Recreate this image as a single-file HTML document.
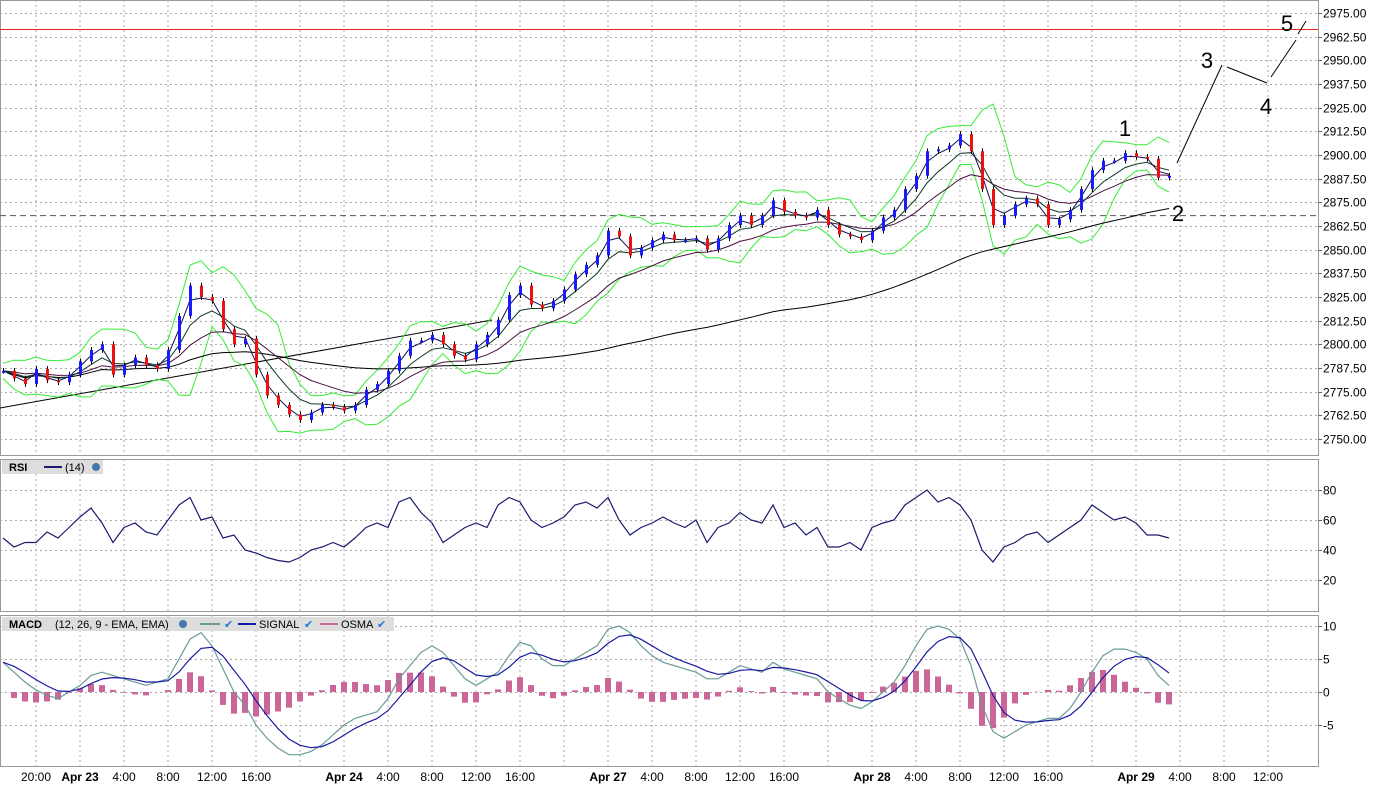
<!DOCTYPE html>
<html><head><meta charset="utf-8"><style>
body{margin:0;background:#fff;}
svg{display:block;font-family:"Liberation Sans",sans-serif;}
</style></head><body>
<svg id="chart" width="1377" height="792" xmlns="http://www.w3.org/2000/svg"></svg>
<script>
const closes=[2786,2782,2779,2787,2781,2780,2784,2791,2797,2800,2784,2789,2793,2789,2787,2797,2815,2831,2825,2823,2808,2800,2803,2784,2773,2768,2763,2760,2764,2768,2767,2765,2768,2776,2779,2786,2794,2802,2802,2805,2800,2794,2792,2800,2805,2813,2826,2831,2821,2819,2823,2829,2837,2842,2847,2860,2857,2847,2851,2855,2858,2855,2855,2856,2850,2856,2863,2868,2863,2868,2876,2870,2868,2867,2871,2863,2858,2857,2855,2860,2867,2871,2882,2889,2902,2903,2905,2911,2902,2882,2863,2868,2874,2877,2874,2863,2866,2871,2882,2892,2897,2897,2901,2899,2898,2888,2889];
const rsiVals=[48,42,45,45,52,48,55,62,68,58,45,55,58,52,50,60,70,75,60,62,48,50,40,38,35,33,32,35,40,42,45,42,48,55,58,55,72,75,65,58,45,50,55,58,55,70,75,72,60,55,58,62,70,72,68,75,60,50,55,58,62,58,55,60,45,55,58,65,60,58,70,55,58,50,55,42,42,45,40,55,58,60,70,75,80,72,75,70,60,40,32,42,45,50,52,45,50,55,60,70,65,60,62,58,50,50,48];
const macdVals=[4.5,3,1.5,0.3,-0.5,-1,0,1,2.5,3,2.5,2,1.5,1,1.5,2,5,8,9,7,3.5,0,-2,-5,-7,-8.5,-9.5,-9.5,-9,-8,-6.5,-5,-4,-3.5,-3,-1,2,4,6,7,6,4,2,1,2,3,5.5,7.5,7,5,4,4,5,6,7,9.5,10,9,7,5.5,4.5,4,3.5,3,2,2,3,4,3.5,3,4.5,3.5,3,2.5,2,0,-1,-2,-2.5,-1.5,0,1.5,4,7,9.5,10,9.5,8,4,-2,-6,-7,-6,-5,-4.5,-4,-4,-2.5,0,3,5.5,6.5,6.5,6,5,2.5,1];
const priceTicks=[2975,2962.5,2950,2937.5,2925,2912.5,2900,2887.5,2875,2862.5,2850,2837.5,2825,2812.5,2800,2787.5,2775,2762.5,2750];
const rsiTicks=[80,60,40,20];
const macdTicks=[10,5,0,-5];
const timeLabels=["20:00","Apr 23","4:00","8:00","12:00","16:00","","Apr 24","4:00","8:00","12:00","16:00","","Apr 27","4:00","8:00","12:00","16:00","","Apr 28","4:00","8:00","12:00","16:00","","Apr 29","4:00","8:00","12:00"];

const NS="http://www.w3.org/2000/svg";
const svg=document.getElementById('chart');
function el(tag,attrs,parent){const e=document.createElementNS(NS,tag);for(const k in attrs)e.setAttribute(k,attrs[k]);(parent||svg).appendChild(e);return e;}
const PW=1318;
const xIdx=i=>3+11*i;
const yP=p=>13+(2975-p)*426/225;
const yR=v=>580-(v-20)*1.5;
const yM=v=>692-v*6.6;

[[0,0,455],[0,459,611],[0,615,766]].forEach((p,k)=>{
  const r=el('rect',{x:0.5,y:p[1]+0.5,width:PW,height:p[2]-p[1],fill:'#fff',stroke:'#999'});
  
  
});
for(let k=0;k<timeLabels.length;k++){
  const x=36+44*k;
  [[0,455],[459,611],[615,766]].forEach(r=>{
    const l=el('line',{x1:x,x2:x,y1:r[0],y2:r[1],stroke:'#aaa','stroke-dasharray':'2,3'});
    
    
  });
  if(timeLabels[k]){
    const t=el('text',{x:x,y:781,'font-size':12,'text-anchor':'middle',fill:'#000','font-weight':timeLabels[k].startsWith('Apr')?'bold':'normal'});
    t.textContent=timeLabels[k];
    
    
  }
}
function hgrid(ticks,yf,fmt){
  ticks.forEach(v=>{
    const y=Math.round(yf(v))+0.5;
    const l=el('line',{x1:0,x2:PW,y1:y,y2:y,stroke:'#aaa','stroke-dasharray':'2,3'});
    
    
    el('line',{x1:PW,x2:PW+4,y1:y,y2:y,stroke:'#666'});
    const t=el('text',{x:PW+5,y:y+4,'font-size':12,fill:'#000'});
    t.textContent=fmt(v);
    
    
  });
}
hgrid(priceTicks,yP,v=>v.toFixed(2));
hgrid(rsiTicks,yR,v=>String(v));
hgrid(macdTicks,yM,v=>String(v));

function ema(a,n){const k=2/(n+1);const o=[];a.forEach((v,i)=>o.push(i?o[i-1]+k*(v-o[i-1]):v));return o;}
function sma(a,n){return a.map((v,i)=>{const s=a.slice(Math.max(0,i-n+1),i+1);return s.reduce((x,y)=>x+y,0)/s.length;});}
function path(vals,yf,color,w,name){
  const d=vals.map((v,i)=>(i?'L':'M')+xIdx(i)+','+yf(v).toFixed(1)).join('');
  const p=el('path',{d:d,fill:'none',stroke:color,'stroke-width':w});
  
  
}
let rl=el('line',{x1:0,x2:PW,y1:29.5,y2:29.5,stroke:'#ee2222'});

rl=el('line',{x1:0,x2:PW,y1:yP(2868),y2:yP(2868),stroke:'#555','stroke-dasharray':'6,4'});

rl=el('line',{x1:0,x2:492,y1:408,y2:320,stroke:'#000'});


const mid=sma(closes,4);
const sd=closes.map((v,i)=>{const s=closes.slice(Math.max(0,i-3),i+1);const m=mid[i];return Math.sqrt(s.reduce((a,b)=>a+(b-m)*(b-m),0)/s.length);});
path(mid.map((m,i)=>m+1.8*sd[i]+4),yP,'#33ee33',1,'bollinger-upper');
path(mid.map((m,i)=>m-1.8*sd[i]-4),yP,'#33ee33',1,'bollinger-lower');
path(sma(closes,55),yP,'#000',1,'long-sma');
path(ema(closes,12),yP,'#4a1040',1,'ema-slow');
path(ema(closes,5),yP,'#0c3a20',1,'ema-mid');
path(ema(closes,2),yP,'#101050',1,'ema-fast');

closes.forEach((c,i)=>{
  const o=i?closes[i-1]:c;
  const hi=Math.max(o,c)+1.5,lo=Math.min(o,c)-1.5;
  const x=xIdx(i)+0.5;
  const w=el('line',{x1:x,x2:x,y1:yP(hi),y2:yP(lo),stroke:'#000'});
  
  
  const top=yP(Math.max(o,c)),h=Math.max(2,yP(Math.min(o,c))-top);
  const b=el('rect',{x:x-1.5,y:top,width:3,height:h,fill:c>=o?'#1a1aff':'#ee1111'});
  
  
});

[[1177,163,1222,65],[1227,67,1267,83],[1271,77,1296,40],[1298,34,1306,21]].forEach(s=>{
  const l=el('line',{x1:s[0],y1:s[1],x2:s[2],y2:s[3],stroke:'#000'});
  
  
});
[["1",1125,136],["2",1178,221],["3",1207,68],["4",1266,114],["5",1287,31]].forEach(a=>{
  const t=el('text',{x:a[1],y:a[2],'font-size':22,'text-anchor':'middle',fill:'#000'});
  t.textContent=a[0];
  
  
});

path(rsiVals,yR,'#1a1a6e',1.2,'rsi-line');
const signalVals=ema(macdVals,4);
macdVals.forEach((m,i)=>{
  const v=m-signalVals[i];
  const y0=yM(0),y1=yM(v);
  const r=el('rect',{x:xIdx(i)-3,y:Math.min(y0,y1),width:6,height:Math.abs(y1-y0),fill:'#cc6699'});
  
  
});
path(macdVals,yM,'#6a9a98',1.2,'macd-line');
path(signalVals,yM,'#1a1aa0',1.2,'signal-line');

let g=el('g',{});

el('rect',{x:2,y:460,width:101,height:14,fill:'#ddd'},g);
let t=el('text',{x:9,y:471,'font-size':11,'font-weight':'bold'},g);t.textContent='RSI';
el('line',{x1:44,x2:62,y1:467,y2:467,stroke:'#1a1a6e','stroke-width':2},g);
t=el('text',{x:65,y:471,'font-size':11},g);t.textContent='(14)';
el('circle',{cx:96,cy:467,r:4,fill:'#4477aa'},g);
g=el('g',{});

el('rect',{x:2,y:617,width:392,height:14,fill:'#ddd'},g);
t=el('text',{x:9,y:628,'font-size':11,'font-weight':'bold'},g);t.textContent='MACD';
t=el('text',{x:55,y:628,'font-size':11},g);t.textContent='(12, 26, 9 - EMA, EMA)';
el('circle',{cx:183,cy:624,r:4,fill:'#4477aa'},g);
el('line',{x1:200,x2:220,y1:624,y2:624,stroke:'#6a9a98','stroke-width':2},g);
t=el('text',{x:224,y:628,'font-size':11,fill:'#2277dd'},g);t.textContent='✔';
el('line',{x1:238,x2:256,y1:624,y2:624,stroke:'#1a1aa0','stroke-width':2},g);
t=el('text',{x:259,y:628,'font-size':11},g);t.textContent='SIGNAL';
t=el('text',{x:304,y:628,'font-size':11,fill:'#2277dd'},g);t.textContent='✔';
el('line',{x1:320,x2:338,y1:624,y2:624,stroke:'#cc6699','stroke-width':2},g);
t=el('text',{x:341,y:628,'font-size':11},g);t.textContent='OSMA';
t=el('text',{x:377,y:628,'font-size':11,fill:'#2277dd'},g);t.textContent='✔';
</script>
</body></html>
